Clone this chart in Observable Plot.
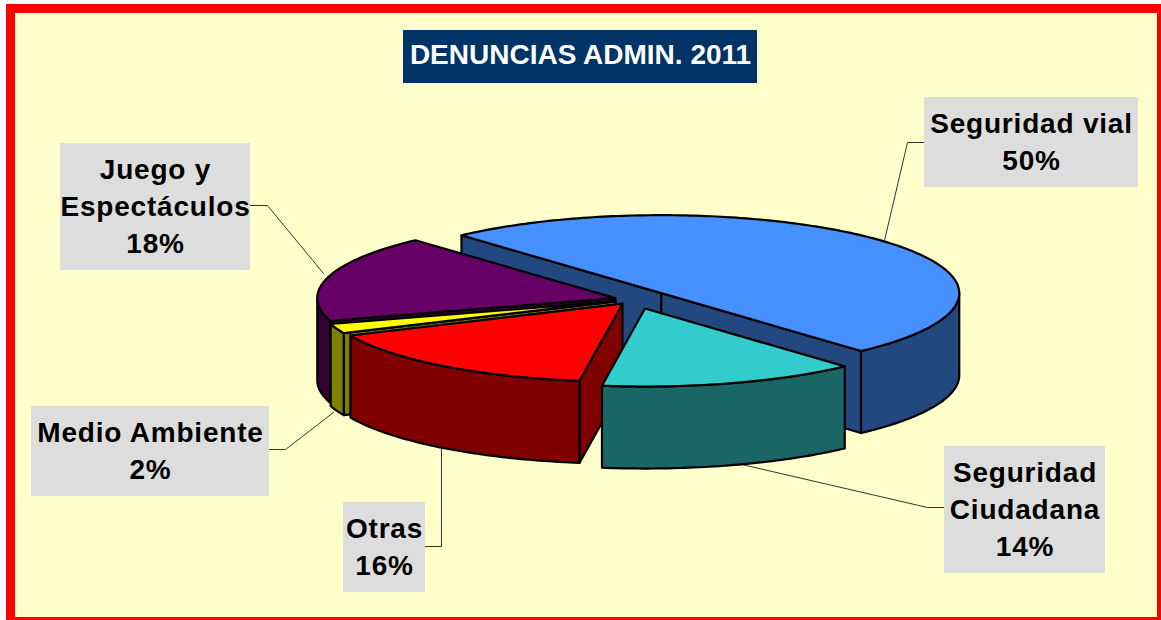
<!DOCTYPE html>
<html><head><meta charset="utf-8">
<script src="https://cdn.jsdelivr.net/npm/d3@7"></script>
<script src="https://cdn.jsdelivr.net/npm/@observablehq/plot@0.6"></script>
<style>
html,body{margin:0;padding:0;background:#fff;overflow:hidden;width:1161px;height:620px}
#frame{position:absolute;left:6px;top:4px;width:1160px;height:622px;box-sizing:border-box;border:9px solid #ff0000;background:#ffffcc}
#chart{position:absolute;left:0;top:0}
.lbl text{letter-spacing:0.8px}
</style></head><body>
<div id="frame"></div><div id="chart"></div>
<script>
// ---- data ----
const title = "DENUNCIAS ADMIN. 2011";
const categories = ["Seguridad vial","Seguridad Ciudadana","Otras","Medio Ambiente","Juego y Espectáculos"];
const values = [50, 14, 16, 2, 18];
const labelLines = [["Seguridad vial"],["Seguridad","Ciudadana"],["Otras"],["Medio Ambiente"],["Juego y","Espectáculos"]];

// ---- styles ----
const topColors  = ["#4690ff","#33cccc","#ff0000","#ffff00","#660066"];
const sideColors = ["#23487f","#1a6666","#800000","#808000","#330033"];
const explode    = [0.121, 0.121, 0.067, 0.067, 0.067];

// ---- layout (pixels) ----
const W = 1161, H = 620;
const CX = 634, CY = 299, RX = 298, RY = 78, DEPTH = 82;
const START = 227.9 * Math.PI / 180;
const titleBox = [403, 757, 30, 83];
const labelBoxes = [[924,1138,97,187],[944,1105,446,573],[343,425,502,592],[31,269,406,496],[60,250,143,270]];
const leaders = [
  [[884,240],[907,142],[924,142]],
  [[737,463],[927,507],[944,507]],
  [[441,446],[441,546],[425,546]],
  [[333,412],[285,449],[269,449]],
  [[323,273],[267,205],[250,205]]
];
const LINE_H = 37;

// pixel -> model units
const ux = px => (px - CX) / RX;
const uy = py => (py - CY) / RY;
const dz = DEPTH / RY;

const arcs = d3.pie().sort(null).value(d => d).startAngle(START).endAngle(START + 2*Math.PI)(values);

function arcPts(ox, oy, a0, a1, z) {
  const n = Math.max(2, Math.ceil((a1 - a0) / (Math.PI/180)));
  const pts = [];
  for (let k = 0; k <= n; k++) {
    const a = a0 + (a1 - a0) * k / n;
    pts.push([ox + Math.cos(a), oy + Math.sin(a) + z]);
  }
  return pts;
}

const polys = [];
const order = arcs.map((a, i) => i).sort((i, j) => {
  const mi = (arcs[i].startAngle + arcs[i].endAngle)/2, mj = (arcs[j].startAngle + arcs[j].endAngle)/2;
  return Math.sin(mi) - Math.sin(mj);
});
for (const i of order) {
  const {startAngle: a0, endAngle: a1} = arcs[i];
  const m = (a0 + a1) / 2;
  const ox = explode[i] * Math.cos(m), oy = explode[i] * Math.sin(m);
  const apex = [ox, oy], apexB = [ox, oy + dz];
  if (-Math.cos(a0) > 0) {
    const p = [ox + Math.cos(a0), oy + Math.sin(a0)];
    polys.push({pts: [apex, p, [p[0], p[1] + dz], apexB], fill: sideColors[i]});
  }
  if (Math.cos(a1) > 0) {
    const p = [ox + Math.cos(a1), oy + Math.sin(a1)];
    polys.push({pts: [apex, p, [p[0], p[1] + dz], apexB], fill: sideColors[i]});
  }
  for (const base of [0, 2*Math.PI, 4*Math.PI]) {
    const s = Math.max(a0, base), e = Math.min(a1, base + Math.PI);
    if (e > s + 1e-6) {
      const top = arcPts(ox, oy, s, e, 0);
      const bot = arcPts(ox, oy, s, e, dz).reverse();
      polys.push({pts: top.concat(bot), fill: sideColors[i]});
    }
  }
  polys.push({pts: [apex].concat(arcPts(ox, oy, a0, a1, 0)), fill: topColors[i]});
}

const textRows = [];
labelBoxes.forEach((b, i) => {
  const lines = labelLines[i].concat([values[i] + "%"]);
  const cx = (b[0] + b[1]) / 2, cy = (b[2] + b[3]) / 2;
  lines.forEach((t, j) => textRows.push({x: ux(cx), y: uy(cy + (j - (lines.length - 1)/2) * LINE_H), t}));
});

const font = "'Liberation Sans', Arial, sans-serif";
const marks = [];
leaders.forEach(L => marks.push(Plot.line(L, {x: d => ux(d[0]), y: d => uy(d[1]), stroke: "#333", strokeWidth: 1})));
polys.forEach(p => marks.push(Plot.line(p.pts, {x: d => d[0], y: d => d[1], fill: p.fill, stroke: "black", strokeWidth: 2.2, strokeLinejoin: "round", curve: "linear-closed"})));
marks.push(Plot.rect(labelBoxes, {x1: d => ux(d[0]), x2: d => ux(d[1]), y1: d => uy(d[2]), y2: d => uy(d[3]), fill: "#dddddd"}));
marks.push(Plot.text(textRows, {x: "x", y: "y", text: "t", fontSize: 28, fontWeight: "bold", fontFamily: font, fill: "black", className: "lbl"}));
marks.push(Plot.rect([titleBox], {x1: d => ux(d[0]), x2: d => ux(d[1]), y1: d => uy(d[2]), y2: d => uy(d[3]), fill: "#003366"}));
marks.push(Plot.text([title], {x: ux((titleBox[0] + titleBox[1]) / 2), y: uy(55), text: d => d, fontSize: 28, fontWeight: "bold", fontFamily: font, fill: "white"}));

const chart = Plot.plot({
  width: W, height: H, margin: 0,
  x: {domain: [ux(0), ux(W)], range: [0, W], axis: null},
  y: {domain: [uy(0), uy(H)], range: [0, H], axis: null},
  style: {background: "transparent", overflow: "visible"},
  marks
});
document.getElementById("chart").appendChild(chart);
</script>
</body></html>
